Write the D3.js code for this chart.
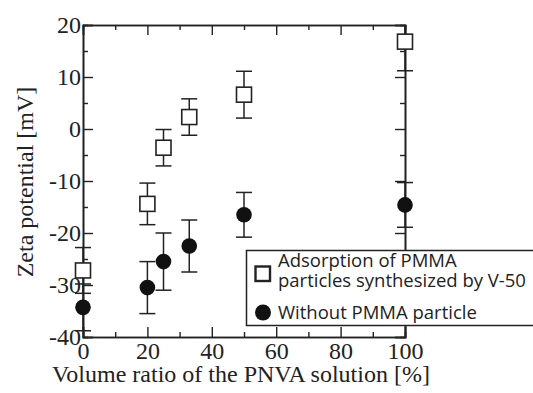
<!DOCTYPE html>
<html>
<head>
<meta charset="utf-8">
<script src="https://cdn.jsdelivr.net/npm/d3@7"></script>
<style>
  body { margin: 0; background: #fff; }
  svg { display: block; }
  .tick text { font-family: 'Liberation Serif', 'Times New Roman', serif; font-size: 24px; }
</style>
</head>
<body>
<div class="chart"></div>
<script>
// Data
var ratios = [0, 20, 25, 33, 50, 100];
var adsorbed = [-27.2, -14.4, -3.6, 2.3, 6.6, 16.8];
var adsorbedErr = [4.4, 4.0, 3.5, 3.5, 4.5, 5.6];
var without = [-34.3, -30.5, -25.5, -22.5, -16.5, -14.6];
var withoutErr = [4.5, 5.0, 5.5, 5.0, 4.3, 4.3];

var xMajor = [0, 20, 40, 60, 80, 100];
var xMinor = [10, 30, 50, 70, 90];
var yMajor = [-40, -30, -20, -10, 0, 10, 20];
var yMinor = [-35, -25, -15, -5, 5, 15];

var legendLabels = [["Adsorption of PMMA", "particles synthesized by V-50"], ["Without PMMA particle"]];

var svgWidth = 533;
var svgHeight = 393;
var margin = { top: 25, right: 128, bottom: 56, left: 83 };
var width = svgWidth - margin.left - margin.right;
var height = svgHeight - margin.top - margin.bottom;
var ink = "#222";
var serif = "'Liberation Serif', 'Times New Roman', serif";

var svg = d3.select(".chart")
  .append("svg")
  .attr("width", svgWidth)
  .attr("height", svgHeight);

var chart = svg.append("g")
  .attr("transform", "translate(" + margin.left + "," + margin.top + ")");

var xScale = d3.scaleLinear().domain([0, 100]).range([0, width]);
var yScale = d3.scaleLinear().domain([-40, 20]).range([height, 0]);

svg.append("defs").append("clipPath").attr("id", "plotClip")
  .append("rect").attr("x", -12).attr("y", 0).attr("width", width + 24).attr("height", height);

function fmt(d) { return d < 0 ? "-" + Math.abs(d) : String(d); }

function styleAxis(g) {
  g.attr("font-family", serif).attr("font-size", 24);
  g.selectAll("path").attr("stroke", ink).attr("stroke-width", 1.6);
  g.selectAll("line").attr("stroke", ink).attr("stroke-width", 1.4);
  g.selectAll("text").attr("fill", ink);
}

// bottom
chart.append("g").attr("transform", "translate(0," + height + ")")
  .call(d3.axisBottom(xScale).tickValues(xMajor).tickSize(-10).tickPadding(5).tickFormat(fmt))
  .call(styleAxis);
chart.append("g").attr("transform", "translate(0," + height + ")")
  .call(d3.axisBottom(xScale).tickValues(xMinor).tickSize(-5).tickFormat(""))
  .call(styleAxis);
// top
chart.append("g")
  .call(d3.axisTop(xScale).tickValues(xMajor).tickSize(-10).tickFormat(""))
  .call(styleAxis);
chart.append("g")
  .call(d3.axisTop(xScale).tickValues(xMinor).tickSize(-5).tickFormat(""))
  .call(styleAxis);
// left
chart.append("g")
  .call(d3.axisLeft(yScale).tickValues(yMajor).tickSize(-10).tickPadding(2).tickFormat(fmt))
  .call(styleAxis);
chart.append("g")
  .call(d3.axisLeft(yScale).tickValues(yMinor).tickSize(-5).tickFormat(""))
  .call(styleAxis);
// right
chart.append("g").attr("transform", "translate(" + width + ",0)")
  .call(d3.axisRight(yScale).tickValues(yMajor).tickSize(-10).tickFormat(""))
  .call(styleAxis);
chart.append("g").attr("transform", "translate(" + width + ",0)")
  .call(d3.axisRight(yScale).tickValues(yMinor).tickSize(-5).tickFormat(""))
  .call(styleAxis);

// remove empty labels of minor / mirrored axes
chart.selectAll(".tick text").filter(function() { return this.textContent === ""; }).remove();

// error bars + markers
var plot = chart.append("g").attr("clip-path", "url(#plotClip)");

function errorBars(values, errs) {
  var cap = 8;
  ratios.forEach(function(r, i) {
    var x = xScale(r);
    var y1 = yScale(values[i] + errs[i]);
    var y2 = yScale(values[i] - errs[i]);
    plot.append("line").attr("x1", x).attr("x2", x).attr("y1", y1).attr("y2", y2)
      .attr("stroke", ink).attr("stroke-width", 1.5);
    [y1, y2].forEach(function(y) {
      plot.append("line").attr("x1", x - cap).attr("x2", x + cap).attr("y1", y).attr("y2", y)
        .attr("stroke", ink).attr("stroke-width", 1.5);
    });
  });
}
errorBars(adsorbed, adsorbedErr);
errorBars(without, withoutErr);

var sq = 15;
chart.selectAll(".sq")
  .data(ratios)
  .enter()
  .append("rect")
  .attr("x", function(d) { return xScale(d) - sq / 2; })
  .attr("y", function(d, i) { return yScale(adsorbed[i]) - sq / 2; })
  .attr("width", sq)
  .attr("height", sq)
  .attr("fill", "#fff")
  .attr("stroke", ink)
  .attr("stroke-width", 1.6);

chart.selectAll(".dot")
  .data(ratios)
  .enter()
  .append("circle")
  .attr("cx", function(d) { return xScale(d); })
  .attr("cy", function(d, i) { return yScale(without[i]); })
  .attr("r", 7.8)
  .attr("fill", "#111");

// axis titles
svg.append("text")
  .attr("transform", "rotate(-90)")
  .attr("x", -182)
  .attr("y", 33)
  .attr("text-anchor", "middle")
  .attr("fill", ink)
  .attr("font-family", serif)
  .attr("font-size", "24px")
  .text("Zeta potential [mV]");

svg.append("text")
  .attr("x", 241)
  .attr("y", 382)
  .attr("text-anchor", "middle")
  .attr("fill", ink)
  .attr("font-family", serif)
  .attr("font-size", "24px")
  .text("Volume ratio of the PNVA solution [%]");

// legend
var legend = svg.append("g");
legend.append("rect")
  .attr("x", 246.5).attr("y", 250.5).attr("width", 300).attr("height", 75)
  .attr("fill", "#fff").attr("stroke", ink).attr("stroke-width", 1.5);
legend.append("rect")
  .attr("x", 255.5).attr("y", 266.5).attr("width", 14.5).attr("height", 14.5)
  .attr("fill", "#fff").attr("stroke", ink).attr("stroke-width", 2.4);
legend.append("circle")
  .attr("cx", 263).attr("cy", 312.5).attr("r", 8).attr("fill", "#111");

var legendText = legend.append("g")
  .attr("font-family", "'Open Sans', sans-serif")
  .attr("font-size", "18.5px")
  .attr("fill", ink);
legendText.append("text").attr("x", 278).attr("y", 267).text(legendLabels[0][0]);
legendText.append("text").attr("x", 278).attr("y", 287).text(legendLabels[0][1]);
legendText.append("text").attr("x", 278).attr("y", 319).text(legendLabels[1][0]);
</script>
</body>
</html>
